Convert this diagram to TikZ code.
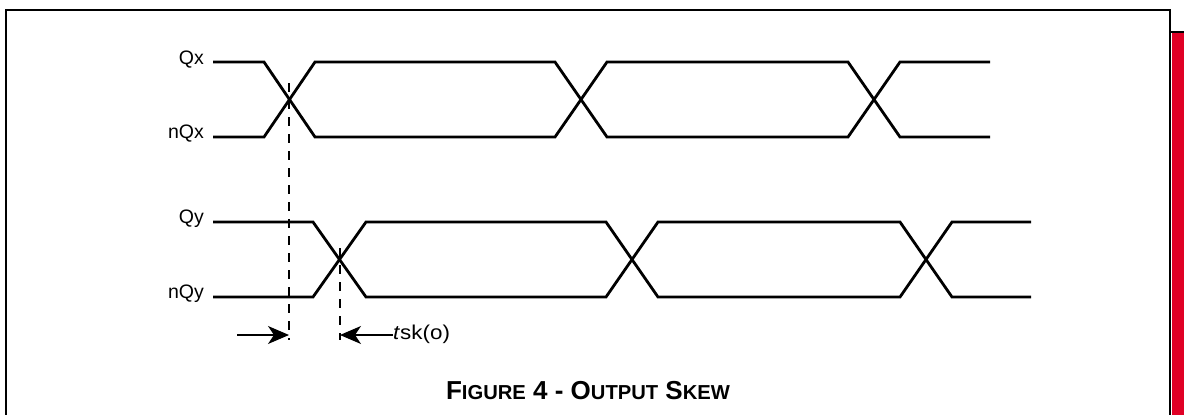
\documentclass[tikz,border=0pt]{standalone}
\usepackage{fontspec}
\setmainfont{Liberation Sans}
\usetikzlibrary{arrows.meta}
\definecolor{barred}{HTML}{E00025}
\tikzset{
  sig/.style={line width=2.8pt, line join=miter},
  guide/.style={line width=1.3pt, dash pattern=on 9pt off 8pt},
  meas/.style={line width=1.3pt, -{Stealth[length=21pt,width=18pt,inset=6pt]}},
  lbl/.style={font=\fontsize{19.5}{21}\selectfont, inner sep=0pt},
  tsklbl/.style={font=\fontsize{20}{22}\selectfont, inner sep=0pt, xscale=1.12, transform shape},
  captxt/.style={font=\bfseries\fontsize{26}{28}\selectfont, inner sep=0pt},
  framestyle/.style={line width=2.2pt}
}
\newcommand{\smc}[1]{{\fontsize{20.2}{22}\selectfont #1}}
\begin{document}
\begin{tikzpicture}[x=1pt,y=-1pt]
\useasboundingbox (0,0) rectangle (1184,415);
% frame and side bar
\draw[framestyle] (6,425) -- (6,10) -- (1170,10) -- (1170,425);
\fill[barred] (1172,32) rectangle (1186,425);
\draw[line width=1.6pt] (1170,32) -- (1186,32);
% labels
\node[lbl, anchor=base east] (lQx) at (204,64) {Qx};
\node[lbl, anchor=base east] (lnQx) at (204,138) {nQx};
\node[lbl, anchor=base east] (lQy) at (204,223) {Qy};
\node[lbl, anchor=base east] (lnQy) at (204,298) {nQy};
% Qx / nQx
\draw[sig] (213,62) -- (264,62) -- (315,137) -- (555,137) -- (607,62) -- (848,62) -- (900,137) -- (990,137);
\draw[sig] (213,137) -- (264,137) -- (315,62) -- (555,62) -- (607,137) -- (848,137) -- (900,62) -- (990,62);
% Qy / nQy
\draw[sig] (213,222) -- (313,222) -- (366,297) -- (606,297) -- (658,222) -- (900,222) -- (952,297) -- (1031,297);
\draw[sig] (213,297) -- (313,297) -- (366,222) -- (606,222) -- (658,297) -- (900,297) -- (952,222) -- (1031,222);
% guides
\coordinate (g1t) at (289,83);
\coordinate (g1b) at (289,340);
\coordinate (g2t) at (340,248);
\coordinate (g2b) at (340,340);
\draw[guide] (g1t) -- (g1b);
\draw[guide] (g2t) -- (g2b);
% skew arrows
\coordinate (a1s) at (237,335);
\coordinate (a1e) at (289,335);
\coordinate (a2e) at (340,335);
\node[tsklbl, anchor=base west] (tsk) at (393,339) {\textit{t}sk(o)};
\draw[meas] (a1s) -- (a1e);
\draw[meas] (tsk.west |- a2e) -- (a2e);
% caption
\node[captxt, anchor=base] (caption) at (588,399) {F\smc{IGURE} 4 - O\smc{UTPUT} S\smc{KEW}};
\end{tikzpicture}
\end{document}
